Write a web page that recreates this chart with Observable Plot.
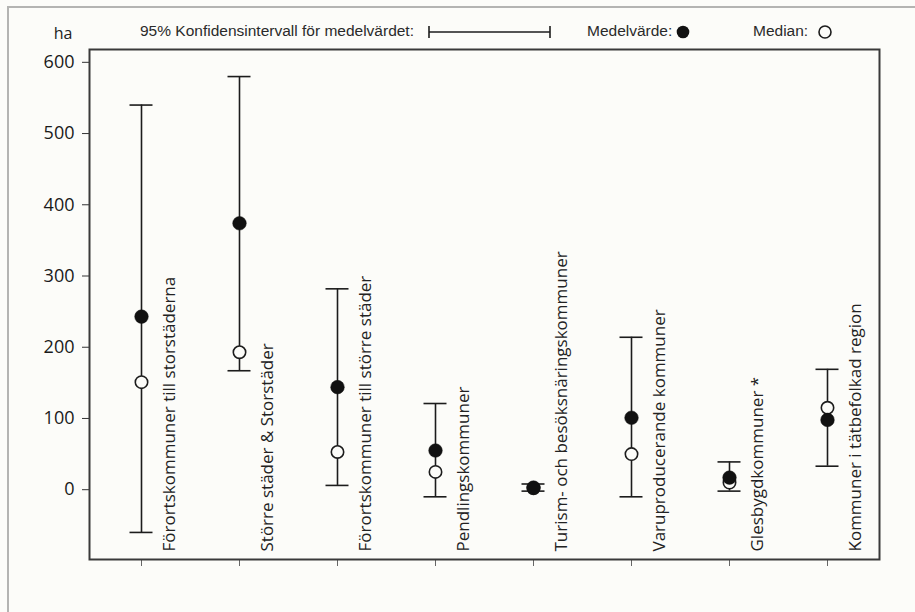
<!DOCTYPE html>
<html>
<head>
<meta charset="utf-8">
<script src="https://cdn.jsdelivr.net/npm/d3@7"></script>
<script src="https://cdn.jsdelivr.net/npm/@observablehq/plot@0.6"></script>
<style>
  html, body { margin: 0; padding: 0; background: #fcfcf9; }
  #page { position: relative; width: 915px; height: 612px; overflow: hidden; }
  #border { position: absolute; left: 7px; top: 6px; width: 1000px; height: 1000px;
            border-left: 2px solid #b4b4b2; border-top: 2px solid #b4b4b2; box-sizing: border-box; }
  #chart { position: absolute; left: 0; top: 0; }
  #legend { position: absolute; left: 0; top: 0; }
</style>
</head>
<body>
<div id="page">
  <div id="border"></div>
  <div id="chart"></div>
  <div id="legend"></div>
</div>
<script>
// Kommungrupper (SKL) och arealen i hektar per grupp
const categories = [
  "Förortskommuner till storstäderna",
  "Större städer & Storstäder",
  "Förortskommuner till större städer",
  "Pendlingskommuner",
  "Turism- och besöksnäringskommuner",
  "Varuproducerande kommuner",
  "Glesbygdkommuner *",
  "Kommuner i tätbefolkad region"
];
const ciLow   = [-60, 167, 6, -10, -2, -10, -2, 33];
const ciHigh  = [540, 580, 282, 121, 8, 214, 39, 169];
const means   = [243, 374, 144, 55, 3, 101, 17, 98];
const medians = [151, 193, 53, 25, 2, 50, 10, 115];
const yTicks  = [0, 100, 200, 300, 400, 500, 600];

const rows = categories.map((name, i) => ({
  name, lo: ciLow[i], hi: ciHigh[i], mean: means[i], median: medians[i]
}));

const ink = "#1c1c1c";

const chart = Plot.plot({
  width: 915,
  height: 612,
  marginLeft: 89,
  marginRight: 36,
  marginTop: 49,
  marginBottom: 53,
  style: { fontFamily: "Open Sans", fontSize: "15px", background: "transparent", color: "#1a1a1a" },
  x: { type: "band", domain: categories, padding: 0 },
  y: { domain: [-98, 618] },
  marks: [
    Plot.axisY(yTicks, { tickSize: 7, tickPadding: 8, fontSize: 18, label: null, stroke: "#333" }),
    Plot.axisX({ tickSize: 7, tickFormat: () => "", label: null, stroke: "#666" }),
    // 95 % konfidensintervall
    Plot.ruleX(rows, { x: "name", y1: "lo", y2: "hi", stroke: ink, strokeWidth: 1.6 }),
    Plot.tickY(rows, { x: "name", y: "lo", stroke: ink, strokeWidth: 1.6, inset: 37.5 }),
    Plot.tickY(rows, { x: "name", y: "hi", stroke: ink, strokeWidth: 1.6, inset: 37.5 }),
    // median (ofylld) och medelvärde (fylld)
    Plot.dot(rows, { x: "name", y: "median", r: 6.2, fill: "#fcfcf9", stroke: ink, strokeWidth: 1.6 }),
    Plot.dot(rows, { x: "name", y: "mean", r: 6.8, fill: "#111", stroke: "#111", strokeWidth: 0.5 }),
    // kategorinamn, lodrätt bredvid varje intervall
    Plot.text(rows, {
      x: "name", text: "name", frameAnchor: "bottom", rotate: -90,
      textAnchor: "start", lineAnchor: "middle", dx: 28, dy: -8,
      fontSize: 17, fill: "#222"
    }),
    Plot.frame({ stroke: "#3a3a3a", strokeWidth: 2 })
  ]
});
document.getElementById("chart").appendChild(chart);

// Förklaring och enhet ovanför diagrammet
const leg = d3.select("#legend").append("svg")
  .attr("width", 915).attr("height", 48)
  .style("font-family", "'Liberation Sans', Arial, sans-serif")
  .style("font-size", "15.5px");

leg.append("text").attr("x", 63).attr("y", 35).attr("text-anchor", "middle")
  .attr("dominant-baseline", "middle")
  .style("font-family", "'Open Sans'").style("font-size", "16px").attr("fill", "#222")
  .text("ha");

leg.append("text").attr("x", 140).attr("y", 32).attr("dominant-baseline", "middle")
  .attr("fill", "#2a2a2a").text("95% Konfidensintervall för medelvärdet:");
const lx0 = 429, lx1 = 550, ly = 32;
leg.append("line").attr("x1", lx0).attr("x2", lx1).attr("y1", ly).attr("y2", ly)
  .attr("stroke", ink).attr("stroke-width", 1.6);
[lx0, lx1].forEach(x => leg.append("line").attr("x1", x).attr("x2", x)
  .attr("y1", ly - 6).attr("y2", ly + 6).attr("stroke", ink).attr("stroke-width", 1.6));

leg.append("text").attr("x", 587).attr("y", 32).attr("dominant-baseline", "middle")
  .attr("fill", "#2a2a2a").text("Medelvärde:");
leg.append("circle").attr("cx", 683).attr("cy", 32).attr("r", 6.3).attr("fill", "#111");

leg.append("text").attr("x", 753).attr("y", 32).attr("dominant-baseline", "middle")
  .attr("fill", "#2a2a2a").text("Median:");
leg.append("circle").attr("cx", 825).attr("cy", 32).attr("r", 6)
  .attr("fill", "none").attr("stroke", ink).attr("stroke-width", 1.6);
</script>
</body>
</html>
